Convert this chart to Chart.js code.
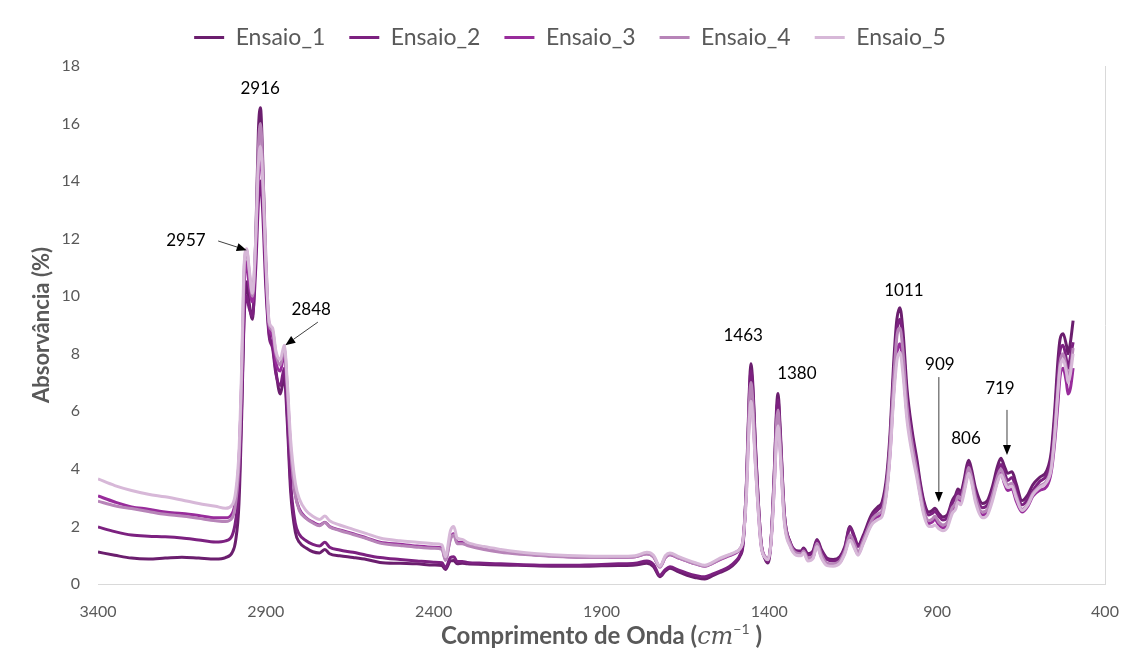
<!DOCTYPE html>
<html><head><meta charset="utf-8">
<script src="https://cdn.jsdelivr.net/npm/chart.js@4.4.1/dist/chart.umd.min.js"></script>
<style>html,body{margin:0;padding:0;background:#fff}#wrap{width:1140px;height:653px;position:relative}</style>
</head><body><div id="wrap"><canvas id="c" width="1140" height="653"></canvas></div>
<script>
const wavenumbers = [
 3400,3350,3300,3250,3200,3150,3100,3050,3020,3000,
 2990,2980,2972,2965,2957,2950,2940,2930,2922,2916,
 2910,2900,2890,2880,2870,2857,2845,2836,2826,2812,
 2800,2780,2760,2740,2724,2710,2680,2640,2600,2560,
 2500,2450,2400,2375,2365,2350,2340,2330,2315,2300,
 2250,2200,2150,2100,2050,2000,1950,1900,1850,1800,
 1765,1745,1726,1710,1696,1670,1645,1620,1592,1570,
 1547,1520,1500,1488,1478,1468,1460,1455,1450,1440,
 1425,1412,1404,1395,1385,1378,1374,1368,1355,1338,
 1320,1305,1298,1285,1270,1258,1245,1228,1210,1190,
 1175,1160,1145,1136,1120,1100,1091,1075,1064,1050,
 1040,1030,1020,1011,1002,990,975,960,950,940,
 925,915,907,895,883,870,855,845,838,830,
 820,812,806,798,785,765,750,735,720,710,
 700,690,677,665,647,630,615,595,573,560,
 550,540,534,525,515,510,503,495];

const ensaio1 = [
 1.11,1.0,0.9,0.87,0.9,0.93,0.9,0.87,0.92,1.1,
 1.5,2.8,5.8,9.2,10.5,9.8,9.2,12.0,15.8,16.55,
 15.0,10.8,8.7,8.3,7.4,6.6,7.2,5.6,3.2,1.8,
 1.45,1.25,1.12,1.08,1.2,1.05,0.98,0.92,0.85,0.75,
 0.72,0.7,0.66,0.64,0.5,0.8,0.82,0.7,0.72,0.7,
 0.68,0.66,0.65,0.63,0.62,0.62,0.62,0.63,0.64,0.66,
 0.72,0.6,0.25,0.45,0.55,0.42,0.3,0.22,0.17,0.28,
 0.4,0.55,0.75,0.95,1.4,3.6,6.6,7.65,7.1,4.5,
 1.5,0.85,0.73,1.5,4.0,6.2,6.62,5.5,2.4,1.45,
 1.15,1.15,1.25,1.05,1.15,1.55,1.2,0.9,0.85,0.95,
 1.3,2.0,1.6,1.35,1.7,2.3,2.5,2.7,2.85,3.8,
 5.3,7.6,9.2,9.6,8.8,6.8,5.35,4.3,3.5,2.9,
 2.5,2.55,2.63,2.45,2.33,2.4,2.9,3.1,3.3,3.2,
 3.6,4.1,4.3,4.0,3.3,2.8,2.9,3.4,4.1,4.37,
 4.1,3.85,3.9,3.5,2.9,3.1,3.45,3.7,3.95,4.6,
 6.0,7.8,8.5,8.7,8.3,8.0,8.4,9.15];

const ensaio2 = [
 1.98,1.82,1.7,1.66,1.64,1.6,1.53,1.46,1.5,1.7,
 2.2,3.4,6.2,9.2,10.0,9.6,9.3,11.0,13.3,14.0,
 13.1,10.3,8.6,8.2,7.3,6.9,7.5,5.9,3.5,2.1,
 1.72,1.5,1.38,1.32,1.45,1.28,1.18,1.1,1.0,0.92,
 0.85,0.8,0.76,0.74,0.56,0.92,0.95,0.78,0.78,0.75,
 0.72,0.7,0.68,0.66,0.65,0.65,0.66,0.68,0.7,0.72,
 0.8,0.68,0.3,0.5,0.6,0.48,0.38,0.3,0.25,0.34,
 0.45,0.6,0.8,1.0,1.45,3.5,6.4,7.4,6.9,4.4,
 1.5,0.9,0.78,1.5,3.9,6.0,6.4,5.3,2.4,1.45,
 1.15,1.12,1.22,1.0,1.1,1.5,1.15,0.85,0.8,0.9,
 1.25,1.95,1.55,1.3,1.62,2.2,2.4,2.6,2.75,3.6,
 5.0,7.2,8.8,9.2,8.4,6.5,5.2,4.1,3.4,2.8,
 2.4,2.45,2.52,2.35,2.22,2.3,2.8,3.0,3.2,3.1,
 3.45,3.95,4.15,3.85,3.15,2.65,2.75,3.25,3.9,4.15,
 3.9,3.6,3.7,3.3,2.75,2.95,3.25,3.55,3.8,4.4,
 5.7,7.4,8.1,8.3,7.8,7.5,7.9,8.4];

const ensaio3 = [
 3.06,2.85,2.68,2.6,2.5,2.45,2.38,2.3,2.3,2.45,
 2.95,4.3,7.0,10.2,11.2,10.4,9.8,11.6,14.1,14.9,
 14.0,11.0,8.9,8.6,7.7,7.4,8.0,6.6,4.6,3.1,
 2.6,2.3,2.15,2.05,2.15,2.0,1.88,1.75,1.6,1.45,
 1.38,1.32,1.28,1.25,0.86,1.6,1.75,1.45,1.45,1.38,
 1.25,1.15,1.08,1.02,0.98,0.95,0.93,0.92,0.93,0.95,
 1.05,0.95,0.6,0.92,1.02,0.9,0.8,0.7,0.62,0.72,
 0.85,0.98,1.08,1.2,1.55,3.3,5.8,6.6,6.1,3.9,
 1.4,0.92,0.85,1.45,3.5,5.4,5.75,4.8,2.2,1.35,
 1.05,1.02,1.12,0.85,0.92,1.35,0.95,0.68,0.65,0.75,
 1.1,1.6,1.25,1.05,1.45,2.0,2.2,2.35,2.45,3.3,
 4.6,6.6,8.0,8.35,7.6,5.9,4.7,3.8,3.1,2.5,
 2.1,2.15,2.25,2.05,1.95,2.05,2.55,2.7,2.95,2.85,
 3.25,3.7,3.95,3.65,2.9,2.4,2.5,3.0,3.6,3.85,
 3.5,3.25,3.3,2.9,2.5,2.7,3.05,3.25,3.4,3.9,
 4.9,6.3,7.2,7.5,7.0,6.6,6.8,7.5];

const ensaio4 = [
 2.88,2.72,2.62,2.52,2.42,2.36,2.28,2.2,2.17,2.3,
 2.8,4.2,7.2,10.8,11.6,10.9,10.0,12.0,15.2,16.0,
 14.8,11.4,9.0,8.8,8.0,7.6,8.2,6.8,4.7,3.1,
 2.55,2.28,2.12,2.02,2.14,1.98,1.86,1.72,1.58,1.42,
 1.34,1.28,1.24,1.2,0.82,1.55,1.7,1.4,1.4,1.34,
 1.2,1.1,1.04,1.0,0.96,0.94,0.92,0.92,0.93,0.95,
 1.04,0.94,0.58,0.92,1.03,0.9,0.8,0.7,0.62,0.72,
 0.86,1.0,1.1,1.22,1.6,3.5,6.2,7.0,6.5,4.1,
 1.45,0.95,0.88,1.5,3.7,5.7,6.05,5.0,2.3,1.4,
 1.08,1.05,1.15,0.9,0.98,1.42,1.02,0.72,0.7,0.8,
 1.15,1.7,1.35,1.12,1.52,2.1,2.3,2.45,2.55,3.5,
 4.9,7.0,8.6,8.9,8.1,6.2,4.9,3.9,3.2,2.6,
 2.2,2.25,2.35,2.15,2.05,2.15,2.65,2.8,3.05,2.95,
 3.35,3.8,4.05,3.75,3.0,2.5,2.6,3.1,3.75,4.0,
 3.7,3.45,3.5,3.1,2.6,2.8,3.15,3.4,3.6,4.1,
 5.3,6.9,7.7,8.0,7.5,7.2,7.5,8.2];

const ensaio5 = [
 3.65,3.42,3.25,3.12,3.03,2.92,2.8,2.7,2.63,2.75,
 3.2,4.6,7.6,11.0,11.65,11.0,10.1,12.0,14.6,15.2,
 14.2,11.2,9.1,8.9,8.1,7.8,8.3,7.0,5.0,3.5,
 2.95,2.55,2.35,2.24,2.36,2.2,2.05,1.9,1.75,1.6,
 1.5,1.45,1.4,1.36,0.95,1.85,2.0,1.6,1.55,1.45,
 1.3,1.2,1.12,1.06,1.02,0.99,0.97,0.96,0.96,0.98,
 1.1,1.0,0.62,0.98,1.08,0.95,0.84,0.74,0.65,0.75,
 0.9,1.02,1.12,1.22,1.55,3.1,5.6,6.35,5.9,3.8,
 1.35,0.9,0.84,1.4,3.4,5.2,5.5,4.6,2.1,1.3,
 1.0,0.98,1.08,0.8,0.88,1.3,0.9,0.64,0.62,0.72,
 1.05,1.53,1.2,1.0,1.4,1.95,2.12,2.25,2.35,3.2,
 4.5,6.4,7.75,8.05,7.3,5.7,4.55,3.65,3.0,2.4,
 2.0,2.0,2.05,1.92,1.85,1.95,2.45,2.6,2.85,2.75,
 3.15,3.6,3.85,3.55,2.8,2.3,2.4,2.9,3.55,3.8,
 3.55,3.35,3.4,3.0,2.55,2.75,3.1,3.35,3.55,4.0,
 5.1,6.7,7.5,7.8,7.35,7.0,7.3,8.0];

const seriesNames = ['Ensaio_1','Ensaio_2','Ensaio_3','Ensaio_4','Ensaio_5'];
const seriesValues = [ensaio1, ensaio2, ensaio3, ensaio4, ensaio5];
const seriesColors = ['#6B1E6E','#7C2180','#982C9B','#B784B8','#D7B8D8'];

const xMin = 400, xMax = 3400, xStep = 500;
const yMin = 0, yMax = 18, yStep = 2;

// peak annotations in data units (wavenumber, absorbance)
const peakLabels = [
 {text:'2916', w:2917, v:17.23},
 {text:'2957', w:3138, v:11.92},
 {text:'2848', w:2765, v:9.55},
 {text:'1463', w:1478, v:8.62},
 {text:'1380', w:1318, v:7.3},
 {text:'1011', w:999,  v:10.2},
 {text:'909',  w:892,  v:7.64},
 {text:'806',  w:814,  v:5.07},
 {text:'719',  w:713,  v:6.81}
];
const peakArrows = [
 {w1:3042, v1:11.92, w2:2957, v2:11.6},
 {w1:2745, v1:9.1,  w2:2842, v2:8.3},
 {w1:895,  v1:7.19, w2:895,  v2:2.85},
 {w1:692,  v1:6.05, w2:692,  v2:4.48}
];

const datasets = seriesNames.map((name, i) => ({
  label: name,
  data: wavenumbers.map((w, k) => ({x: w, y: seriesValues[i][k]})),
  borderColor: seriesColors[i],
  backgroundColor: seriesColors[i],
  borderWidth: 3,
  pointRadius: 0,
  cubicInterpolationMode: 'monotone',
  order: seriesNames.length - i
}));

const annotationPlugin = {
  id: 'peaks',
  afterDatasetsDraw(chart) {
    const ctx = chart.ctx, xs = chart.scales.x, ys = chart.scales.y;
    ctx.save();
    ctx.fillStyle = '#000';
    ctx.font = '17px Lato';
    ctx.textAlign = 'center';
    ctx.textBaseline = 'middle';
    peakLabels.forEach(p => ctx.fillText(p.text, xs.getPixelForValue(p.w), ys.getPixelForValue(p.v)));
    peakArrows.forEach(a => {
      const x1 = xs.getPixelForValue(a.w1), y1 = ys.getPixelForValue(a.v1);
      const x2 = xs.getPixelForValue(a.w2), y2 = ys.getPixelForValue(a.v2);
      const ang = Math.atan2(y2 - y1, x2 - x1);
      const hl = 10, hw = 4;
      const bx = x2 - hl * Math.cos(ang), by = y2 - hl * Math.sin(ang);
      ctx.strokeStyle = '#404040';
      ctx.lineWidth = 1;
      ctx.beginPath(); ctx.moveTo(x1, y1); ctx.lineTo(bx, by); ctx.stroke();
      ctx.fillStyle = '#000';
      ctx.beginPath();
      ctx.moveTo(x2, y2);
      ctx.lineTo(bx + hw * Math.sin(ang), by - hw * Math.cos(ang));
      ctx.lineTo(bx - hw * Math.sin(ang), by + hw * Math.cos(ang));
      ctx.closePath(); ctx.fill();
    });
    ctx.restore();
  }
};

const xTitlePlugin = {
  id: 'xtitle',
  afterDraw(chart) {
    const ctx = chart.ctx, area = chart.chartArea;
    const parts = [
      {t:'Comprimento de Onda (', f:'bold 24px Lato', dy:0},
      {t:'cm', f:'italic 24px "DejaVu Serif"', dy:0},
      {t:'−1', f:'14px Lato', dy:-10},
      {t:' )', f:'bold 24px Lato', dy:0}
    ];
    ctx.save();
    ctx.fillStyle = '#595959';
    ctx.textBaseline = 'alphabetic';
    ctx.textAlign = 'left';
    let total = 0;
    parts.forEach(p => { ctx.font = p.f; p.w = ctx.measureText(p.t).width; total += p.w; });
    let x = (area.left + area.right) / 2 - total / 2;
    const base = 644;
    parts.forEach(p => { ctx.font = p.f; ctx.fillText(p.t, x, base + p.dy); x += p.w; });
    ctx.restore();
  }
};

// adds a little extra space under the legend, as in the original layout
const legendGapPlugin = {
  id: 'legendGap',
  beforeUpdate(chart) {
    const lg = chart.legend;
    if (lg && !lg._gapPatched) {
      const orig = lg.fit.bind(lg);
      lg.fit = function () { orig(); this.height += 7; };
      lg._gapPatched = true;
    }
  }
};

new Chart(document.getElementById('c'), {
  type: 'line',
  data: { datasets },
  plugins: [annotationPlugin, xTitlePlugin, legendGapPlugin],
  options: {
    responsive: false,
    animation: false,
    layout: { padding: { top: 2, left: 0, right: 0, bottom: 0 } },
    plugins: {
      tooltip: { enabled: false },
      legend: {
        position: 'top',
        labels: {
          boxWidth: 30, boxHeight: 3, padding: 24,
          color: '#595959',
          font: { family: 'Lato', size: 23 },
          sort: (a, b) => a.datasetIndex - b.datasetIndex,
          generateLabels: (chart) => {
            const items = Chart.defaults.plugins.legend.labels.generateLabels(chart);
            items.forEach(it => { it.lineWidth = 0; it.strokeStyle = 'rgba(0,0,0,0)'; });
            return items;
          }
        }
      }
    },
    scales: {
      x: {
        type: 'linear', reverse: true, min: xMin, max: xMax,
        ticks: { stepSize: xStep, color: '#595959', font: { family: 'Lato', size: 16 }, padding: 18, maxRotation: 0,
                 callback: v => String(v) },
        grid: { display: false, drawTicks: false },
        border: { display: true, color: '#d9d9d9', width: 1 },
        afterFit: s => { s.height = 69; }
      },
      y: {
        min: yMin, max: yMax,
        ticks: { stepSize: yStep, color: '#595959', font: { family: 'Lato', size: 16 }, padding: 18 },
        grid: { display: false, drawTicks: false },
        border: { display: false },
        title: { display: true, text: 'Absorvância (%)', color: '#595959', font: { family: 'Lato', size: 22, weight: 'bold' }, padding: { top: 29, bottom: 0 } },
        afterFit: s => { s.width = 98; }
      },
      y2: {
        position: 'right', min: yMin, max: yMax,
        ticks: { display: false },
        grid: { display: false, drawTicks: false },
        border: { display: true, color: '#d9d9d9', width: 1 },
        afterFit: s => { s.width = 35; }
      }
    }
  }
});
</script>
</body></html>
